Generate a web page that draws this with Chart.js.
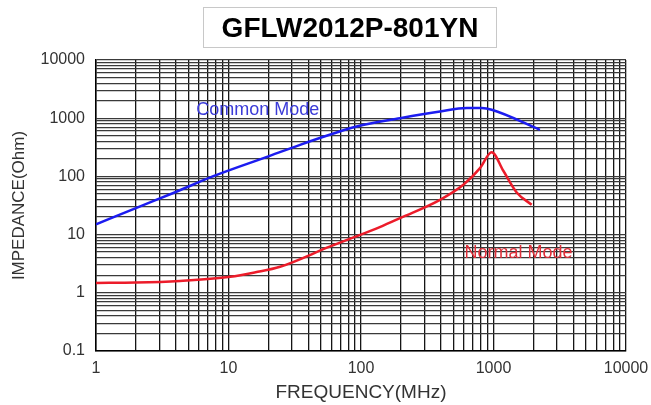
<!DOCTYPE html>
<html>
<head>
<meta charset="utf-8">
<script src="https://cdn.jsdelivr.net/npm/chart.js@4/dist/chart.umd.min.js"></script>
<style>
  body { margin: 0; background: #fff; }
  #wrap { position: relative; width: 651px; height: 405px; }
  #title {
    position: absolute; left: 203px; top: 7px; width: 294px; height: 41px;
    box-sizing: border-box; border: 1px solid #c8c8c8;
    font: bold 28px "Liberation Sans", Arial, sans-serif; line-height: 39px;
    text-align: center; color: #000;
  }
</style>
</head>
<body>
<div id="wrap">
  <canvas id="chart" width="651" height="405"></canvas>
  <div id="title">GFLW2012P-801YN</div>
</div>
<script>
// frequency (MHz) / impedance (Ohm)
const commonFreq = [1, 2, 4, 7.6, 19.5, 34.7, 58, 92.7, 197, 395, 628, 814, 969, 2240];
const commonZ    = [15, 28.6, 54, 100, 217, 349, 519, 720, 1000, 1303, 1490, 1490, 1394, 631];

const normalFreq = [1, 2, 4.3, 10.3, 16, 24.5, 58, 83, 140, 197, 395, 592, 791, 969, 1186, 1497, 1941];
const normalZ    = [1.48, 1.5, 1.6, 1.88, 2.25, 2.8, 6.2, 8.5, 13.6, 19.2, 39.6, 71.7, 139, 261, 125, 53, 32.5];

const xTickLabels = ["1", "10", "100", "1000", "10000"];
const yTickLabels = ["0.1", "1", "10", "100", "1000", "10000"];

const notes = [
  {text: "Common Mode", x: 16.6, y: 1393, color: "#3b3bd8"},
  {text: "Normal Mode", x: 1545, y: 4.87, color: "#e0303a"}
];

// decade ticks plus 2..9 in between
function logTicks(labels){
  const out = [];
  labels.forEach((l, i) => {
    const v = Number(l);
    if (i === labels.length - 1) { out.push(v); return; }
    for (let m = 1; m <= 9; m++) out.push(Number((m * v).toPrecision(3)));
  });
  return out;
}

const notePlugin = {
  id: "notes",
  afterDatasetsDraw(c){
    const ctx = c.ctx;
    ctx.save();
    ctx.font = '18px "Liberation Sans", Arial, sans-serif';
    ctx.textAlign = "center";
    ctx.textBaseline = "middle";
    notes.forEach(n => {
      ctx.fillStyle = n.color;
      ctx.fillText(n.text, c.scales.x.getPixelForValue(n.x), c.scales.y.getPixelForValue(n.y));
    });
    ctx.restore();
  }
};

const tickFont = {family: '"Liberation Sans", Arial, sans-serif', size: 16};

new Chart(document.getElementById("chart"), {
  type: "line",
  data: {
    datasets: [{
      label: "Common Mode",
      data: commonFreq.map((f, i) => ({x: f, y: commonZ[i]})),
      borderColor: "#1c1cf0",
      borderWidth: 2.5,
      pointRadius: 0,
      cubicInterpolationMode: "monotone",
      fill: false
    }, {
      label: "Normal Mode",
      data: normalFreq.map((f, i) => ({x: f, y: normalZ[i]})),
      borderColor: "#ec1c2a",
      borderWidth: 2.5,
      pointRadius: 0,
      cubicInterpolationMode: "monotone",
      fill: false
    }]
  },
  options: {
    responsive: false,
    animation: false,
    layout: {padding: {left: 0, right: 25, top: 60, bottom: 0}},
    plugins: {legend: {display: false}, tooltip: {enabled: false}},
    scales: {
      x: {
        type: "logarithmic",
        min: 1, max: 10000,
        afterBuildTicks: s => { s.ticks = logTicks(xTickLabels).map(v => ({value: v})); },
        afterFit: s => { s.height = 54; s.paddingLeft = 0; s.paddingRight = 0; },
        ticks: {
          autoSkip: false, maxRotation: 0, padding: 8, color: "#333", font: tickFont,
          callback: v => xTickLabels.includes(String(v)) ? String(v) : ""
        },
        grid: {color: "#151515", lineWidth: 1.3, drawTicks: false},
        border: {color: "#000", width: 1.5},
        title: {display: true, text: "FREQUENCY(MHz)", color: "#333",
                font: {family: '"Liberation Sans", Arial, sans-serif', size: 19},
                padding: {top: 0, bottom: 1}}
      },
      y: {
        type: "logarithmic",
        min: 0.1, max: 10000,
        afterBuildTicks: s => { s.ticks = logTicks(yTickLabels).map(v => ({value: v})); },
        afterFit: s => { s.width = 96; s.paddingTop = 0; s.paddingBottom = 0; },
        ticks: {
          autoSkip: false, padding: 11, color: "#333", font: tickFont,
          callback: v => yTickLabels.includes(String(v)) ? String(v) : ""
        },
        grid: {color: "#3a3a3a", lineWidth: 1.3, drawTicks: false},
        border: {color: "#000", width: 1.5},
        title: {display: true, text: "IMPEDANCE(Ohm)", color: "#333",
                font: {family: '"Liberation Sans", Arial, sans-serif', size: 17},
                padding: {top: 9, bottom: 0}}
      }
    }
  },
  plugins: [notePlugin]
});
</script>
</body>
</html>
